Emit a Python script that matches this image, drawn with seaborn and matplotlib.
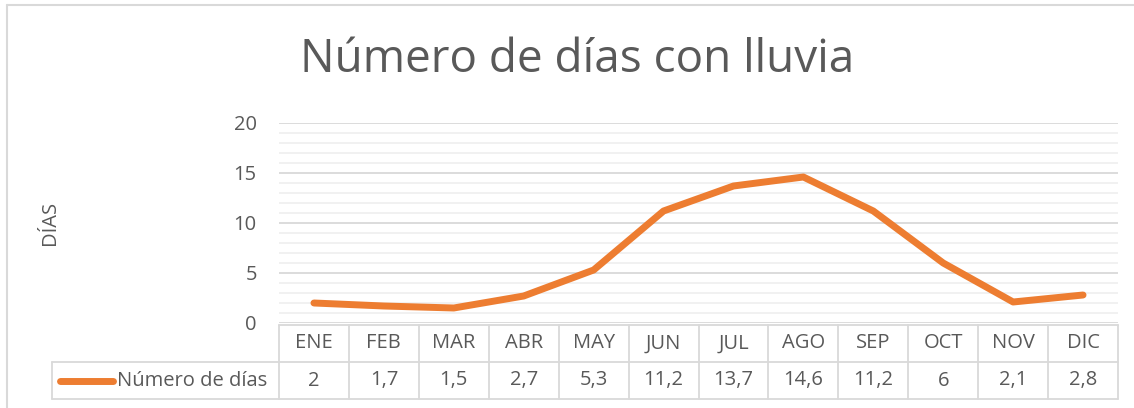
import matplotlib.pyplot as plt
import numpy as np
import pandas as pd
import seaborn as sns
from matplotlib.lines import Line2D
from matplotlib.ticker import MultipleLocator

meses = ['ENE', 'FEB', 'MAR', 'ABR', 'MAY', 'JUN', 'JUL', 'AGO', 'SEP', 'OCT', 'NOV', 'DIC']
dias = [2, 1.7, 1.5, 2.7, 5.3, 11.2, 13.7, 14.6, 11.2, 6, 2.1, 2.8]
serie = 'Número de días'

TEXT = '#595959'
GRID = '#d9d9d9'
ORANGE = '#ED7D31'

sns.set_theme(style='white')
plt.rcParams['font.family'] = ['Open Sans', 'DejaVu Sans']

df = pd.DataFrame({'pos': np.arange(len(meses)), 'dias': dias})

fig = plt.figure(figsize=(11.34, 4.08), dpi=100)
ax = fig.add_axes([279 / 1134, 1 - 323 / 408, (1118 - 279) / 1134, 200 / 408])

sns.lineplot(data=df, x='pos', y='dias', ax=ax, color=ORANGE, linewidth=5,
             solid_capstyle='round', solid_joinstyle='round')

ax.set_xlim(-0.5, len(meses) - 0.5)
ax.set_ylim(0, 20)
ax.yaxis.set_major_locator(MultipleLocator(5))
ax.yaxis.set_minor_locator(MultipleLocator(1))
ax.grid(True, which='major', axis='y', color=GRID, linewidth=1.3)
ax.grid(True, which='minor', axis='y', color='#f0f0f0', linewidth=1.3)
ax.set_axisbelow(True)
for s in ax.spines.values():
    s.set_visible(False)
ax.set_xticks([])
ax.set_xlabel('')
ax.set_ylabel('DÍAS', fontsize=14.5, color=TEXT)
ax.yaxis.set_label_coords(-0.261, 0.5)
ax.tick_params(axis='y', which='both', length=0, labelsize=14.5, labelcolor=TEXT, pad=16)

# data table below the plot
tr = ax.get_xaxis_transform()
y_top, y_mid, y_bot = -0.01, -0.195, -0.38
n = len(meses)
lw = 1.3
ax.plot([-0.5, n - 0.5], [y_top, y_top], transform=tr, color=GRID, lw=lw, clip_on=False)
ax.plot([-0.5, n - 0.5], [y_mid, y_mid], transform=tr, color=GRID, lw=lw, clip_on=False)
ax.plot([-0.5, n - 0.5], [y_bot, y_bot], transform=tr, color=GRID, lw=lw, clip_on=False)
for i in range(n + 1):
    ax.plot([i - 0.5, i - 0.5], [y_top, y_bot], transform=tr, color=GRID, lw=lw, clip_on=False)
for i, (m, v) in enumerate(zip(meses, dias)):
    ax.text(i, (y_top + y_mid) / 2, m, transform=tr, ha='center', va='center',
            fontsize=14.5, color=TEXT)
    ax.text(i, (y_mid + y_bot) / 2, f'{v:g}'.replace('.', ','), transform=tr,
            ha='center', va='center', fontsize=14.5, color=TEXT)

# legend cell
x0 = 52 / 1134
x1 = 279 / 1134
fy_mid = 1 - 362 / 408
fy_bot = 1 - 399 / 408
for xs, ys in [([x0, x1], [fy_mid, fy_mid]), ([x0, x1], [fy_bot, fy_bot]),
               ([x0, x0], [fy_mid, fy_bot])]:
    fig.add_artist(Line2D(xs, ys, color=GRID, lw=lw))
fy_c = (fy_mid + fy_bot) / 2
fig.add_artist(Line2D([60 / 1134, 113 / 1134], [fy_c, fy_c], color=ORANGE, lw=5,
                      solid_capstyle='round'))
fig.text(117 / 1134, fy_c, serie, ha='left', va='center', fontsize=14.5, color=TEXT)

# title
fig.text(577 / 1134, 1 - 60 / 408, 'Número de días con lluvia', ha='center', va='center',
         fontsize=33, color=TEXT)

# chart frame (left and top edges)
fig.add_artist(Line2D([7 / 1134, 7 / 1134], [0, 1 - 5 / 408], color=GRID, lw=1.5))
fig.add_artist(Line2D([7 / 1134, 1], [1 - 5 / 408, 1 - 5 / 408], color=GRID, lw=1.5))

fig.savefig('out.png', dpi=100, facecolor='white')
